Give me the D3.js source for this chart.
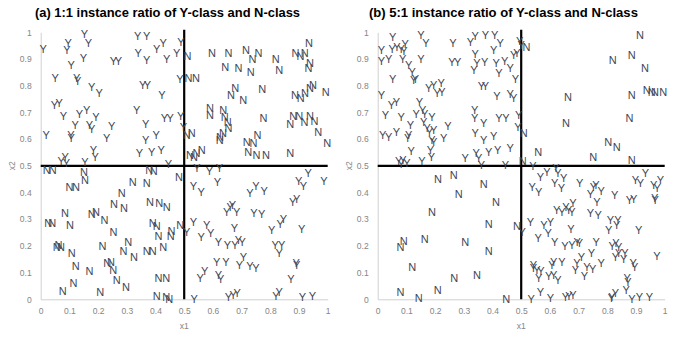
<!DOCTYPE html>
<html><head><meta charset="utf-8">
<script src="https://cdn.jsdelivr.net/npm/d3@7"></script>
<style>body{margin:0;background:#fff}svg{display:block}</style>
</head><body>
<svg id="c" width="684" height="337"></svg>
<script>
const titles = ["(a) 1:1 instance ratio of Y-class and N-class", "(b) 5:1 instance ratio of Y-class and N-class"];
const tickValues = [0,0.1,0.2,0.3,0.4,0.5,0.6,0.7,0.8,0.9,1];
const tickLabels = ["0","0.1","0.2","0.3","0.4","0.5","0.6","0.7","0.8","0.9","1"];
const threshold = 0.5;

const panelA_Y = [[0.009,0.936],[0.096,0.959],[0.091,0.933],[0.152,0.993],[0.166,0.959],[0.149,0.905],[0.106,0.876],[0.253,0.893],[0.271,0.893],[0.338,0.986],[0.369,0.986],[0.427,0.96],[0.404,0.936],[0.34,0.921],[0.369,0.896],[0.439,0.899],[0.474,0.921],[0.489,0.965],[0.05,0.828],[0.125,0.828],[0.129,0.818],[0.178,0.794],[0.204,0.772],[0.355,0.803],[0.372,0.803],[0.422,0.765],[0.485,0.826],
[0.048,0.728],[0.064,0.734],[0.079,0.687],[0.135,0.694],[0.16,0.709],[0.192,0.684],[0.334,0.707],[0.431,0.678],[0.451,0.678],[0.488,0.687],[0.12,0.653],[0.17,0.653],[0.178,0.637],[0.247,0.65],[0.366,0.657],[0.019,0.615],[0.105,0.615],[0.106,0.603],[0.23,0.603],[0.366,0.597],[0.402,0.615],[0.184,0.559],[0.19,0.532],[0.344,0.547],[0.387,0.553],[0.42,0.559],[0.085,0.532],[0.071,0.519],[0.09,0.512],[0.154,0.515],[0.445,0.508],[0.497,0.647],
[0.544,0.49],[0.588,0.481],[0.623,0.49],[0.616,0.441],[0.532,0.424],[0.559,0.403],[0.729,0.397],[0.75,0.426],[0.779,0.407],[0.899,0.443],[0.915,0.424],[0.932,0.472],[0.987,0.443],[0.878,0.366],[0.892,0.375],
[0.532,0.291],[0.509,0.253],[0.559,0.232],[0.578,0.278],[0.592,0.247],[0.619,0.216],[0.648,0.328],[0.66,0.347],[0.668,0.353],[0.683,0.328],[0.675,0.266],[0.651,0.204],[0.677,0.204],[0.689,0.222],[0.702,0.216],[0.743,0.322],[0.77,0.32],[0.805,0.26],[0.834,0.282],[0.846,0.301],[0.909,0.262],[0.817,0.204],[0.84,0.204],[0.831,0.172],[0.613,0.141],[0.645,0.141],[0.692,0.128],[0.706,0.16],[0.729,0.125],[0.75,0.116],[0.89,0.137],[0.892,0.129],[0.556,0.079],[0.571,0.106],[0.619,0.091],[0.627,0.075],[0.872,0.075],[0.535,0.0],[0.654,0.01],[0.671,0.016],[0.685,0.022],[0.82,0.012],[0.831,0.029],[0.912,0.01],[0.947,0.012]];

const panelA_N = [[0.511,0.911],[0.597,0.921],[0.654,0.924],[0.715,0.934],[0.759,0.924],[0.738,0.899],[0.819,0.899],[0.831,0.859],[0.935,0.961],[0.888,0.924],[0.905,0.912],[0.92,0.921],[0.938,0.885],[0.933,0.867],[0.643,0.871],[0.689,0.868],[0.732,0.853],[0.515,0.83],[0.541,0.83],[0.678,0.79],[0.663,0.765],[0.706,0.747],[0.772,0.787],[0.886,0.765],[0.906,0.754],[0.921,0.773],[0.938,0.791],[0.949,0.802],[0.993,0.778],
[0.59,0.715],[0.59,0.69],[0.636,0.709],[0.641,0.684],[0.652,0.665],[0.654,0.64],[0.625,0.609],[0.635,0.623],[0.624,0.597],[0.509,0.615],[0.526,0.622],[0.776,0.678],[0.718,0.59],[0.741,0.584],[0.755,0.615],[0.723,0.553],[0.752,0.541],[0.785,0.541],[0.869,0.549],[0.52,0.54],[0.534,0.534],[0.543,0.547],[0.561,0.559],[0.869,0.657],[0.88,0.687],[0.901,0.687],[0.919,0.665],[0.938,0.687],[0.954,0.669],[0.967,0.628],[0.998,0.584],
[0.021,0.484],[0.042,0.484],[0.151,0.478],[0.154,0.447],[0.1,0.419],[0.123,0.419],[0.321,0.441],[0.369,0.434],[0.378,0.484],[0.394,0.481],[0.482,0.459],[0.282,0.397],
[0.026,0.285],[0.04,0.285],[0.085,0.322],[0.102,0.278],[0.178,0.32],[0.193,0.326],[0.222,0.295],[0.254,0.251],[0.255,0.355],[0.29,0.34],[0.381,0.365],[0.413,0.362],[0.439,0.347],[0.39,0.285],[0.404,0.275],[0.41,0.237],[0.456,0.257],[0.453,0.237],[0.486,0.278],[0.062,0.204],[0.071,0.197],[0.056,0.195],[0.108,0.172],[0.215,0.2],[0.305,0.216],[0.288,0.179],[0.325,0.16],[0.369,0.179],[0.39,0.182],[0.427,0.197],[0.122,0.125],[0.17,0.104],[0.232,0.135],[0.245,0.141],[0.253,0.11],[0.265,0.072],[0.297,0.045],[0.114,0.062],[0.077,0.032],[0.207,0.029],[0.41,0.079],[0.437,0.079],[0.404,0.012],[0.437,0.01],[0.448,0.001]];

const panelB_Y = [[0.013,0.934],[0.013,0.894],[0.038,0.899],[0.052,0.984],[0.05,0.936],[0.067,0.946],[0.082,0.936],[0.096,0.956],[0.091,0.928],[0.087,0.899],[0.108,0.878],[0.12,0.853],[0.125,0.822],[0.131,0.824],[0.151,0.899],[0.151,0.99],[0.168,0.959],[0.052,0.824],[0.262,0.961],[0.323,0.965],[0.34,0.986],[0.375,0.99],[0.408,0.99],[0.427,0.961],[0.404,0.934],[0.495,0.969],[0.5,0.953],[0.259,0.89],[0.279,0.89],[0.34,0.919],[0.346,0.884],[0.335,0.859],[0.373,0.89],[0.413,0.884],[0.442,0.894],[0.462,0.865],[0.474,0.915],[0.485,0.921],[0.422,0.846],[0.48,0.824],[0.361,0.799],[0.375,0.799],[0.178,0.79],[0.195,0.803],[0.221,0.809],[0.207,0.772],[0.224,0.778],[0.013,0.765],[0.415,0.762],[0.462,0.769],[0.474,0.753],[0.048,0.728],[0.065,0.74],[0.145,0.74],
[0.027,0.69],[0.082,0.684],[0.134,0.694],[0.157,0.709],[0.164,0.694],[0.189,0.684],[0.114,0.653],[0.16,0.665],[0.172,0.64],[0.18,0.628],[0.195,0.634],[0.245,0.649],[0.017,0.615],[0.038,0.609],[0.065,0.628],[0.108,0.615],[0.104,0.603],[0.189,0.597],[0.195,0.59],[0.23,0.603],[0.338,0.709],[0.338,0.678],[0.369,0.659],[0.422,0.678],[0.447,0.678],[0.491,0.69],[0.489,0.647],[0.34,0.624],[0.369,0.597],[0.404,0.612],[0.117,0.557],[0.184,0.559],[0.187,0.534],[0.073,0.516],[0.088,0.522],[0.082,0.507],[0.102,0.509],[0.154,0.516],[0.305,0.528],[0.343,0.547],[0.352,0.528],[0.361,0.503],[0.387,0.553],[0.418,0.559],[0.462,0.566],[0.445,0.503],
[0.541,0.499],[0.567,0.459],[0.59,0.478],[0.621,0.49],[0.628,0.474],[0.648,0.453],[0.617,0.434],[0.64,0.416],[0.538,0.422],[0.561,0.403],[0.704,0.434],[0.741,0.395],[0.752,0.42],[0.76,0.428],[0.779,0.407],[0.826,0.391],[0.764,0.366],[0.898,0.447],[0.915,0.434],[0.933,0.472],[0.962,0.428],[0.974,0.416],[0.985,0.447],[0.965,0.378],[0.877,0.37],[0.892,0.375],
[0.503,0.253],[0.532,0.291],[0.579,0.278],[0.602,0.291],[0.594,0.247],[0.559,0.228],[0.617,0.216],[0.624,0.335],[0.642,0.325],[0.656,0.347],[0.665,0.335],[0.677,0.325],[0.68,0.362],[0.741,0.322],[0.768,0.316],[0.673,0.262],[0.652,0.2],[0.677,0.204],[0.695,0.216],[0.703,0.21],[0.761,0.216],[0.811,0.297],[0.837,0.297],[0.833,0.278],[0.805,0.26],[0.909,0.26],[0.817,0.2],[0.83,0.212],[0.84,0.197],[0.828,0.16],[0.84,0.172],[0.861,0.175],[0.857,0.15],[0.745,0.172],[0.71,0.16],[0.694,0.135],[0.689,0.11],[0.729,0.122],[0.749,0.112],[0.72,0.087],[0.779,0.137],[0.613,0.141],[0.642,0.141],[0.607,0.129],[0.543,0.129],[0.555,0.11],[0.569,0.104],[0.561,0.079],[0.543,0.116],[0.596,0.087],[0.613,0.091],[0.628,0.072],[0.869,0.079],[0.872,0.066],[0.89,0.135],[0.895,0.122],[0.973,0.162],[0.535,0.0],[0.567,0.029],[0.602,0.004],[0.654,0.007],[0.666,0.012],[0.68,0.016],[0.816,0.007],[0.828,0.022],[0.814,0.004],[0.866,0.035],[0.886,0.0],[0.912,0.01],[0.947,0.01],[0.967,0.372]];

const panelB_N = [[0.518,0.946],[0.663,0.759],[0.914,0.99],[0.885,0.915],[0.819,0.896],[0.931,0.865],[0.937,0.784],[0.955,0.778],[0.966,0.778],[0.995,0.778],[0.885,0.765],[0.509,0.624],[0.656,0.662],[0.877,0.678],[0.559,0.553],[0.751,0.534],[0.803,0.59],[0.833,0.571],[0.885,0.522],[0.21,0.449],[0.265,0.466],[0.369,0.432],[0.282,0.395],[0.412,0.366],[0.505,0.516],[0.189,0.328],[0.387,0.282],[0.485,0.275],[0.079,0.197],[0.091,0.22],[0.164,0.225],[0.305,0.216],[0.387,0.179],[0.12,0.122],[0.267,0.081],[0.346,0.091],[0.079,0.029],[0.143,0.004],[0.209,0.035],[0.448,0.0]];

const panels = [
  {title: titles[0], Y: panelA_Y, N: panelA_N, x0: 40.7, tx: 167.5, tw: 265},
  {title: titles[1], Y: panelB_Y, N: panelB_N, x0: 377.7, tx: 503.4, tw: 269}
];

const svg = d3.select("#c");
const W = 287, yTop = 32.3, yBot = 299.3;
const letterColor = "#414755";

panels.forEach(p => {
  const x = d3.scaleLinear().domain([0,1]).range([p.x0, p.x0 + W]);
  const y = d3.scaleLinear().domain([0,1]).range([yBot, yTop]);
  const g = svg.append("g");

  // title
  g.append("text").attr("x", p.tx).attr("y", 16.5).attr("text-anchor","middle")
    .attr("font-family","Liberation Sans, Arial, sans-serif").attr("font-weight","bold")
    .attr("font-size", 13).attr("textLength", p.tw).attr("lengthAdjust","spacingAndGlyphs")
    .attr("fill","#000").text(p.title);

  // axes
  const ax = g.append("g").attr("transform", `translate(0,${yBot})`)
    .call(d3.axisBottom(x).tickValues(tickValues).tickFormat((d,i)=>tickLabels[i]).tickSize(0).tickPadding(9));
  const ay = g.append("g").attr("transform", `translate(${p.x0},0)`)
    .call(d3.axisLeft(y).tickValues(tickValues).tickFormat((d,i)=>tickLabels[i]).tickSize(0).tickPadding(9));
  [ax, ay].forEach(a => {
    a.select(".domain").attr("stroke","#d0d0d0").attr("stroke-width",1);
    a.selectAll("text").attr("fill","#858585").attr("font-size",8.5)
      .attr("font-family","Liberation Sans, Arial, sans-serif");
  });

  g.append("text").attr("x", x(0.5)).attr("y", 329).attr("text-anchor","middle")
    .attr("font-family","Liberation Sans, Arial, sans-serif").attr("font-size",8.5).attr("fill","#858585").text("x1");
  g.append("text").attr("transform", `translate(${p.x0 - 26},${y(0.5)}) rotate(-90)`).attr("text-anchor","middle")
    .attr("font-family","Liberation Sans, Arial, sans-serif").attr("font-size",8.5).attr("fill","#858585").text("x2");

  // threshold lines
  g.append("line").attr("x1", x(0)).attr("x2", x(1)).attr("y1", y(threshold)).attr("y2", y(threshold))
    .attr("stroke","#000").attr("stroke-width",2.2);
  g.append("line").attr("x1", x(threshold)).attr("x2", x(threshold)).attr("y1", y(1.01)).attr("y2", y(0))
    .attr("stroke","#000").attr("stroke-width",2.2);

  // letters
  const pts = p.Y.map(d => ({x:d[0], y:d[1], c:"Y"})).concat(p.N.map(d => ({x:d[0], y:d[1], c:"N"})));
  g.append("g").selectAll("text").data(pts).join("text")
    .attr("x", d => x(d.x)).attr("y", d => y(d.y)).attr("dy","0.36em")
    .attr("text-anchor","middle").attr("font-family","Liberation Sans, Arial, sans-serif")
    .attr("font-size",11).attr("fill", letterColor).text(d => d.c);
});
</script>
</body></html>
